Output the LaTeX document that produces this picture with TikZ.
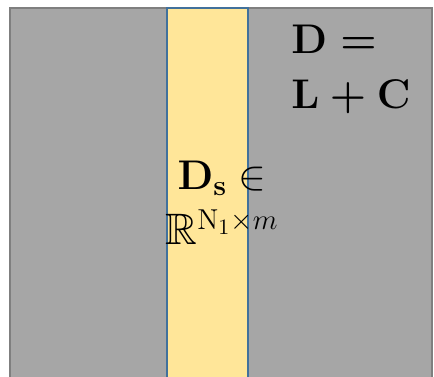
\documentclass[tikz,border=0pt]{standalone}
\usepackage{amsmath,amssymb}
\definecolor{blockgray}{HTML}{A6A6A6}
\definecolor{edgegray}{HTML}{7F7F7F}
\definecolor{stripfill}{HTML}{FFE699}
\definecolor{stripedge}{HTML}{41719C}
\tikzset{
  eqtext/.style={font=\fontsize{22}{27.5}\selectfont, inner sep=0pt},
  boldeq/.style={eqtext, font=\fontsize{22}{27.5}\selectfont\boldmath}
}
\begin{document}
\begin{tikzpicture}[x=0.5pt,y=-0.5pt]
    \useasboundingbox (0,0) rectangle (434,376);
    % Full data matrix
    \draw[edgegray, fill=blockgray, line width=1.2pt] (10,8) rectangle (432,390);
    % Sampled columns
    \draw[stripedge, fill=stripfill, line width=1.2pt] (167,8) rectangle (248,390);
    % Labels
    \node[boldeq, anchor=north west, align=left] (dec) at (291,25)
        {$\mathbf{D} =$\\ $\mathbf{L} + \mathbf{C}$};
    \node[eqtext, align=center] (sub) at (222,203)
        {$\mathbf{D}_{\mathbf{s}} \in$\\ $\mathbb{R}^{\mathrm{N}_1 \times m}$};
\end{tikzpicture}
\end{document}
